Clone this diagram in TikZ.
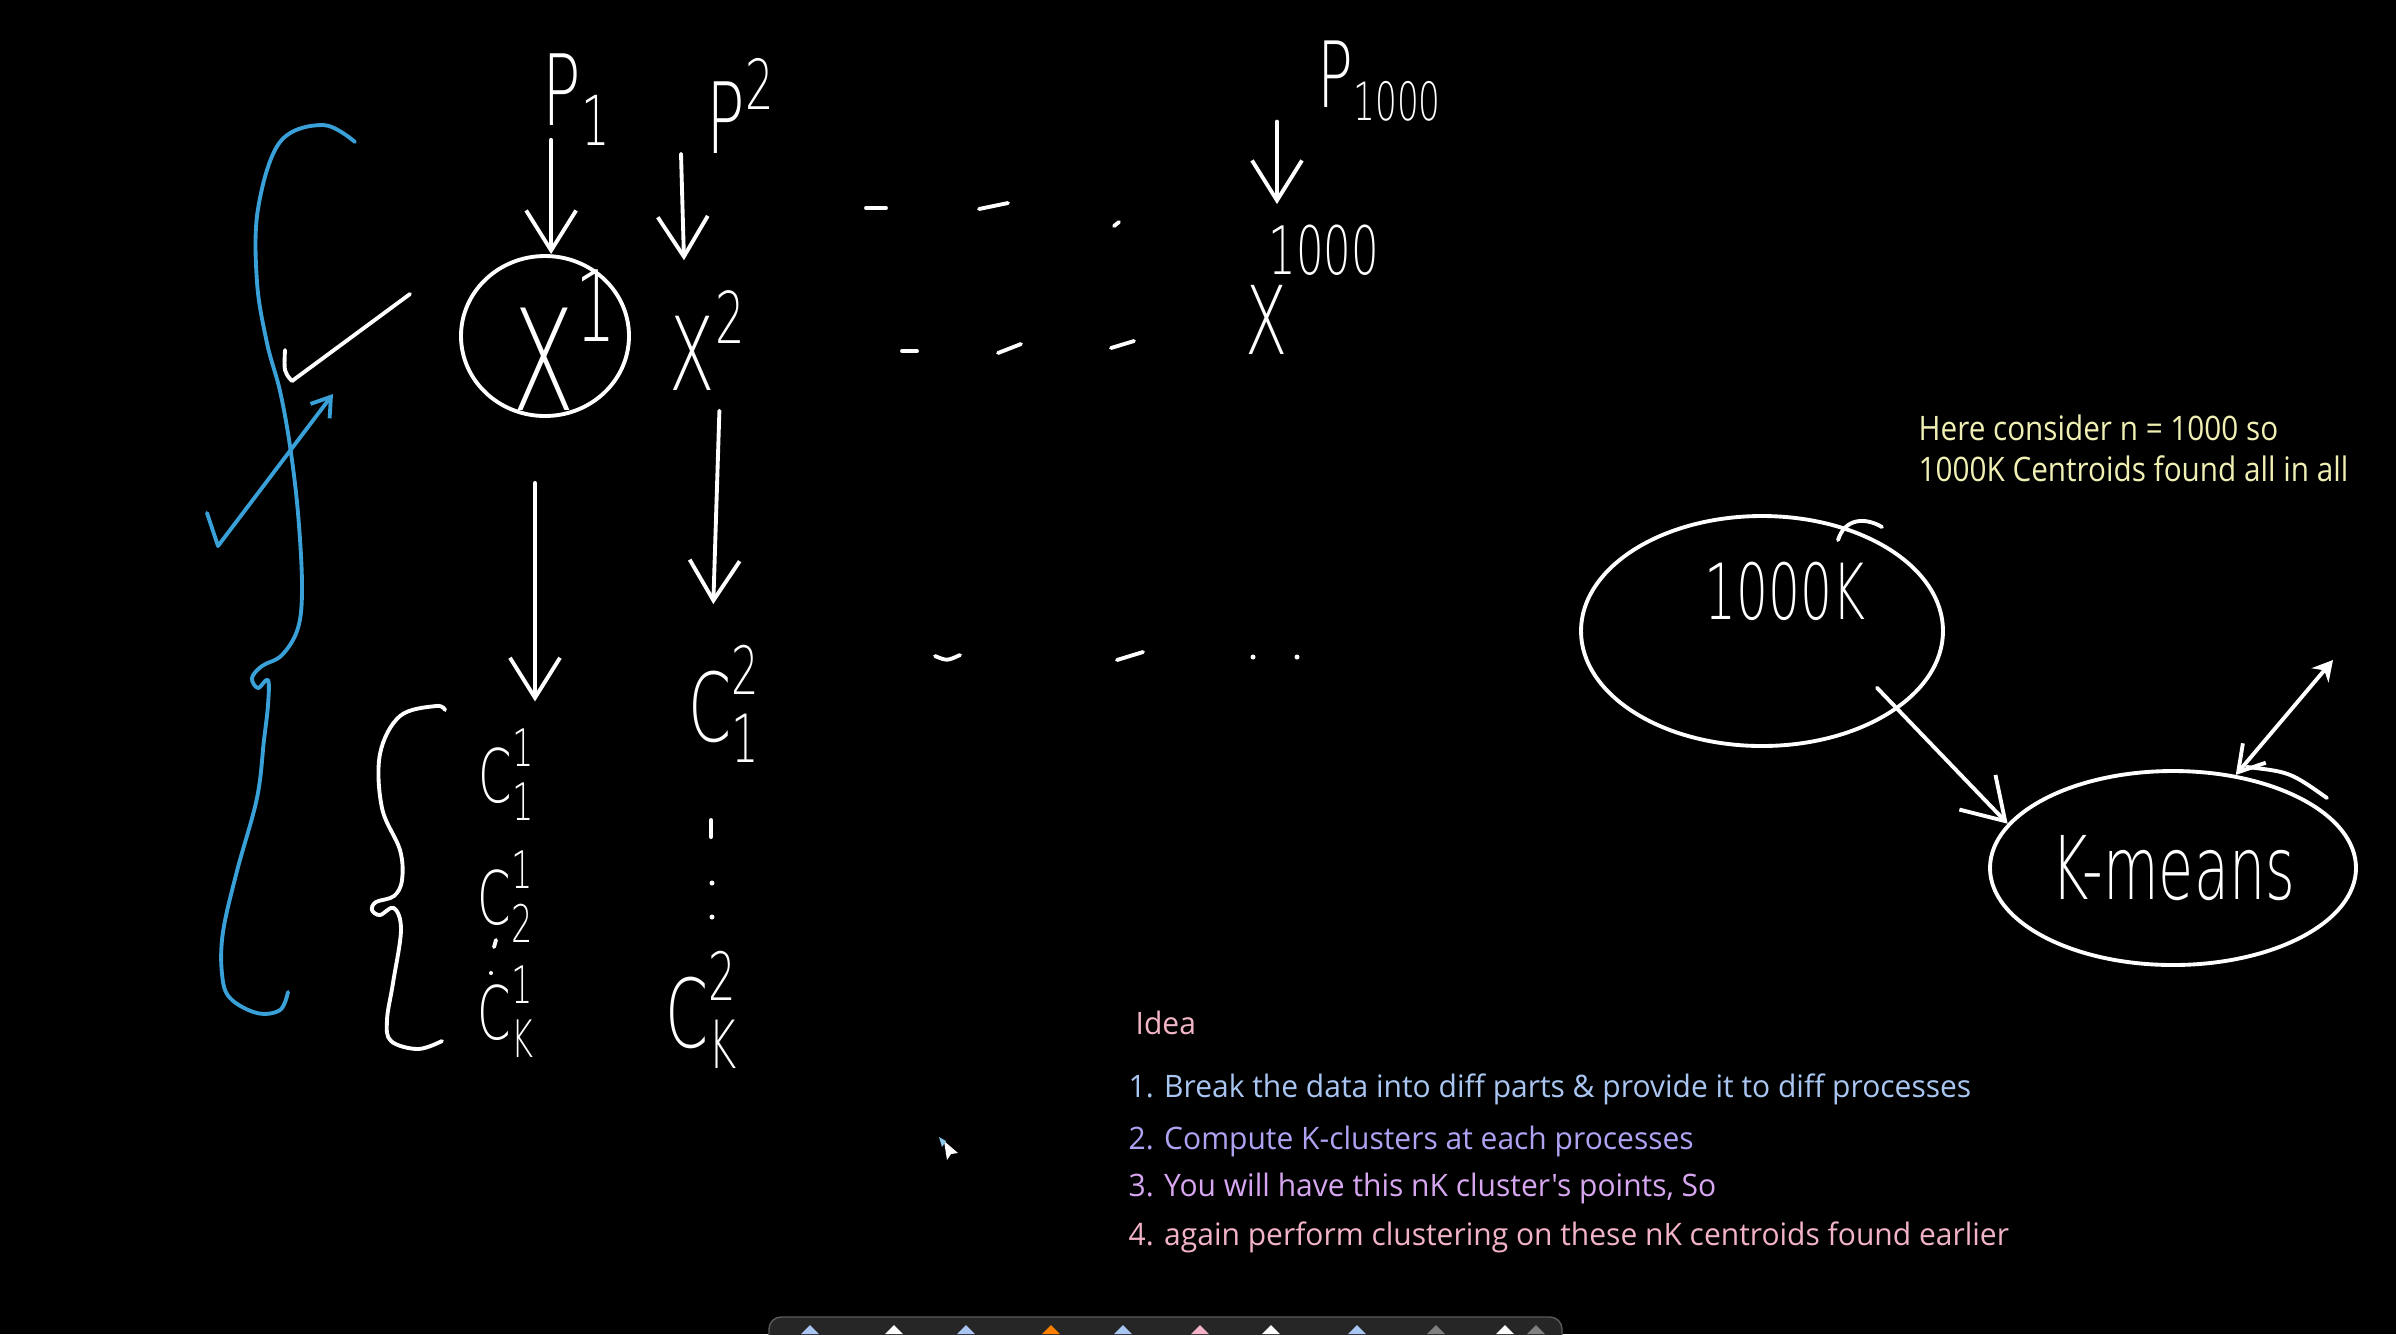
\documentclass[tikz,border=0pt]{standalone}
\usepackage{fontspec}
\usepackage{amsmath}
\usetikzlibrary{arrows.meta, shapes.geometric}
\newfontfamily\handfont{DejaVu Sans ExtraLight}[FakeStretch=0.65]
\newfontfamily\typefont{Open Sans}[FakeStretch=0.88]
\newfontfamily\listfont{Open Sans}[FakeStretch=0.97]

\definecolor{penblue}{HTML}{3AA0D8}
\definecolor{notey}{HTML}{F0F0B4}
\definecolor{ideapink}{HTML}{F2B6C6}
\definecolor{stepblue}{HTML}{A9C6F2}
\definecolor{steplav}{HTML}{B0A2F2}
\definecolor{stepviolet}{HTML}{D7A6F0}
\definecolor{steppink}{HTML}{F2B2C8}
\definecolor{barfill}{HTML}{262626}
\definecolor{barline}{HTML}{5A5A5A}

\tikzstyle{ink}      = [draw=white, line width=1.1pt, line cap=round, line join=round]
\tikzstyle{blueink}  = [ink, draw=penblue]
\tikzstyle{inkarrow} = [ink, -{Straight Barb[length=4mm, width=5mm]}]
\tikzstyle{ring}     = [ink, ellipse, inner sep=0pt]
\tikzset{hand/.style={text=white, inner sep=0pt, anchor=base west, font=\handfont\fontsize{#1}{#1}\selectfont},
         typed/.style={inner sep=0pt, anchor=base west, font=\typefont\fontsize{#1}{#1}\selectfont},
         listed/.style={inner sep=0pt, anchor=base west, font=\listfont\fontsize{#1}{#1}\selectfont}}

\begin{document}
\begin{tikzpicture}[x=0.1mm, y=-0.1mm]
\useasboundingbox (0,0) rectangle (2396,1334);
\fill[black] (0,0) rectangle (2396,1334);

% processes
\node[hand=28] (pone)  at (542,125)  {$\text{P}_{\text{1}}$};
\node[hand=28] (ptwo)  at (706,153)  {$\text{P}^{\text{2}}$};
\node[hand=26] (pthou) at (1317,107) {$\text{P}_{\text{\fontsize{15}{15}\selectfont 1000}}$};

% data parts
\node[hand=40] (xone)  at (512,410)  {$\text{X}^{\text{1}}$};
\node[ring, minimum width=16.8mm, minimum height=16mm] (xring) at (545,336) {};
\node[hand=29] (xtwo)  at (669,390)  {$\text{X}^{\text{2}}$};
\node[hand=27] (xthou) at (1245,354) {X};
\node[hand=19, anchor=south west] (xthoupow) at (1268,276) {1000};

\coordinate (ponefoot)  at ([xshift=-2.6mm]pone.south);
\coordinate (pthoufoot) at ([xshift=-4mm]pthou.south west);
\draw[inkarrow, shorten <=-0.6mm] (ponefoot) -- (ponefoot |- xring.north);
\draw[inkarrow] ([xshift=-2.5mm]ptwo.south west) -- ([xshift=1.5mm, yshift=3mm]xtwo.north west);
\draw[inkarrow, shorten >=2mm] (pthoufoot) -- (pthoufoot |- xthoupow.north);

% dashes between the columns
\draw[ink] (866,208) -- (886,208);
\draw[ink] (979,209) -- (1008,203);
\draw[ink] (1114,226) -- (1119,222);
\draw[ink] (902,351) -- (917,351);
\draw[ink] (998,353) -- (1021,344);
\draw[ink] (1111,348) -- (1134,341);
\draw[ink] (935,656) .. controls (947,661) .. (960,655);
\draw[ink] (1117,660) -- (1143,652);
\fill[white] (1253,657) circle (0.25mm) (1297,657) circle (0.25mm);

% clusters
\node[hand=21] (cone1) at (478,802)  {$\text{C}^{\text{1}}_{\text{1}}$};
\node[hand=21] (cone2) at (477,924)  {$\text{C}^{\text{1}}_{\text{2}}$};
\node[hand=21] (conek) at (477,1039) {$\text{C}^{\text{1}}_{\text{K}}$};
\node[hand=27] (ctwo1) at (688,741)  {$\text{C}^{\text{2}}_{\text{1}}$};
\node[hand=27] (ctwok) at (665,1047) {$\text{C}^{\text{2}}_{\text{K}}$};

\draw[inkarrow, shorten <=6.5mm, shorten >=2.7mm] ([xshift=-1mm]xring.south) -- ([xshift=-1mm]xring.south |- cone1.north);
\draw[inkarrow, shorten <=2mm, shorten >=4mm] ([xshift=1.2mm]xtwo.south) -- ([xshift=0.4mm]xtwo.south |- ctwo1.north);

\draw[ink] (711,820) -- (711,837);
\fill[white] (712,883) circle (0.25mm) (712,917) circle (0.25mm) (491,973) circle (0.2mm);
\draw[ink] (496,940) -- (494,947);

% braces and ticks
\draw[ink] plot[smooth, tension=0.6] coordinates {(445,710) (436,706) (400,716) (380,754) (382,808) (400,850) (402,880) (394,896) (376,902) (372,910) (380,915) (394,908) (401,930) (393,983) (387,1020) (391,1041) (418,1049) (442,1041)};
\draw[ink] (285,350) .. controls (284,372) .. (292,381) -- (410,294);
\draw[blueink] plot[smooth, tension=0.6] coordinates {(355,142) (323,125) (280,142) (258,209) (257,282) (267,343) (280,391) (290,446) (298,513) (302,586) (298,628) (282,655) (262,666) (252,678) (258,688) (268,680) (268,705) (264,740) (257,798) (237,871) (223,932) (222,974) (230,998) (257,1013) (280,1010) (288,992)};
\draw[blueink, -{Straight Barb[length=1.8mm, width=2.4mm]}] (207,513) -- (218,546) -- (333,394);

% second round of clustering
\node[ring, minimum width=36.2mm, minimum height=23mm] (pool) at (1762,631) {};
\node[hand=22] (poolnum) at (1704,619) {1000K};
\draw[ink] (1838,540) .. controls (1845,518) and (1865,517) .. (1882,527);
\node[ring, hand=25, anchor=center, minimum width=36.6mm, minimum height=19.4mm] (kmeans) at (2173,868) {K-means};
\draw[ink] (2247,767) .. controls (2290,772) .. (2327,798);
\draw[inkarrow, shorten <=-3mm] (pool.-30) -- (kmeans.165);
\coordinate (kmloop) at (2333,660);
\draw[ink, {Straight Barb[length=2.5mm, width=3mm]}-{Stealth[length=2mm, width=2.2mm]}] (kmeans.56) -- (kmloop);

% typed notes
\node[typed=9.6, text=notey] (notea) at (1918,440) {Here consider n = 1000 so};
\node[typed=9.6, text=notey] (noteb) at (1918,481) {1000K Centroids found all in all};

\node[listed=8.8, text=ideapink]   (idea)  at (1135,1034) {Idea};
\node[listed=8.8, text=stepblue]   (stepa) at (1128,1097) {1. Break the data into diff parts \& provide it to diff processes};
\node[listed=8.8, text=steplav]    (stepb) at (1128,1149) {2. Compute K-clusters at each processes};
\node[listed=8.8, text=stepviolet] (stepc) at (1128,1196) {3. You will have this nK cluster's points, So};
\node[listed=8.8, text=steppink]   (stepd) at (1128,1245) {4. again perform clustering on these nK centroids found earlier};

% cursor and toolbar
\fill[white] (944,1141) -- (958,1153) -- (951,1154) -- (947,1160) -- cycle;
\fill[penblue!60] (939,1137) -- (946,1141) -- (942,1147) -- cycle;
\draw[fill=barfill, draw=barline, rounded corners=1.2mm] (769,1317) rectangle (1562,1365);
\foreach \ix/\ic in {810/stepblue, 894/white, 966/stepblue, 1051/orange, 1123/stepblue, 1200/steppink, 1271/white, 1357/stepblue, 1436/gray, 1505/white, 1536/gray}
  \fill[\ic] (\ix-9,1334) -- (\ix,1325) -- (\ix+9,1334) -- cycle;

\end{tikzpicture}
\end{document}
